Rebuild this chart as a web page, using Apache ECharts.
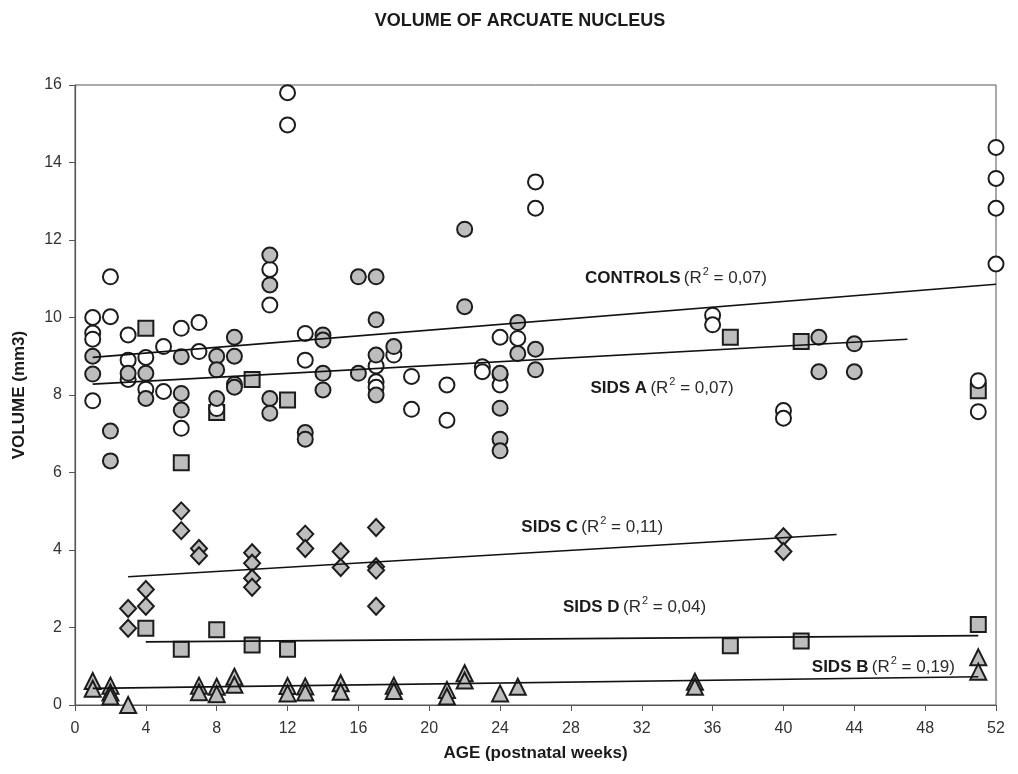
<!DOCTYPE html>
<html>
<head>
<meta charset="utf-8">
<title>Volume of arcuate nucleus</title>
<script src="https://cdn.jsdelivr.net/npm/echarts@6/dist/echarts.min.js"></script>
<style>
  html, body { margin: 0; padding: 0; background: #fff; }
  #chart { width: 1018px; height: 774px; }
</style>
</head>
<body>
<div id="chart"></div>
<script>
// [age in weeks, volume in mm3]
var controls = [
  [1, 10.0], [1, 9.6], [1, 9.44], [1, 7.85],
  [2, 11.05], [2, 10.02],
  [3, 9.55], [3, 8.9], [3, 8.4],
  [4, 8.97], [4, 8.15],
  [5, 9.25], [5, 8.09],
  [6, 9.72], [6, 7.14],
  [7, 9.87], [7, 9.12],
  [8, 7.65],
  [11, 11.24], [11, 10.32],
  [12, 15.8], [12, 14.97],
  [13, 9.59], [13, 8.9],
  [17, 8.75], [17, 8.34], [17, 8.2],
  [18, 9.03],
  [19, 8.48], [19, 7.63],
  [21, 8.26], [21, 7.35],
  [23, 8.73], [23, 8.6],
  [24, 9.49], [24, 8.52], [24, 8.26],
  [25, 9.46],
  [26, 13.5], [26, 12.82],
  [36, 10.06], [36, 9.81],
  [40, 7.6], [40, 7.4],
  [51, 8.37], [51, 7.57],
  [52, 14.39], [52, 13.59], [52, 12.82], [52, 11.38]
]
var sidsA = [
  [1, 9.0], [1, 8.54],
  [2, 7.07], [2, 6.3],
  [3, 8.56],
  [4, 8.56], [4, 7.91],
  [6, 8.99], [6, 8.04], [6, 7.61],
  [8, 9.0], [8, 8.65], [8, 7.91],
  [9, 9.49], [9, 9.0], [9, 8.28], [9, 8.2],
  [11, 11.61], [11, 10.84], [11, 7.91], [11, 7.53],
  [13, 7.03], [13, 6.86],
  [14, 9.55], [14, 9.42], [14, 8.56], [14, 8.13],
  [16, 11.05], [16, 8.56],
  [17, 11.05], [17, 9.94], [17, 9.03], [17, 8.0],
  [18, 9.25],
  [22, 12.28], [22, 10.28],
  [24, 8.56], [24, 7.66], [24, 6.86], [24, 6.56],
  [25, 9.87], [25, 9.07],
  [26, 9.18], [26, 8.65],
  [42, 9.49], [42, 8.6],
  [44, 9.32], [44, 8.6]
]
var squaresHigh = [
  [4, 9.72], [6, 6.25], [8, 7.55], [10, 8.4], [12, 7.87],
  [37, 9.49], [41, 9.38], [51, 8.11]
]
var sidsD = [
  [4, 1.98], [6, 1.44], [8, 1.94], [10, 1.55], [12, 1.44],
  [37, 1.53], [41, 1.65], [51, 2.08]
]
var sidsC = [
  [3, 2.49], [3, 1.98], [4, 2.98], [4, 2.55],
  [6, 5.01], [6, 4.5], [7, 4.04], [7, 3.85],
  [10, 3.93], [10, 3.66], [10, 3.27], [10, 3.04],
  [13, 4.41], [13, 4.04], [15, 3.96], [15, 3.55],
  [17, 4.58], [17, 3.57], [17, 3.48], [17, 2.55],
  [40, 4.34], [40, 3.96]
]
var sidsB = [
  [1, 0.62], [1, 0.42], [2, 0.5], [2, 0.32], [2, 0.22], [3, 0.0],
  [7, 0.5], [7, 0.33], [8, 0.47], [8, 0.28], [9, 0.73], [9, 0.52],
  [12, 0.49], [12, 0.3], [13, 0.48], [13, 0.32], [15, 0.56], [15, 0.34],
  [18, 0.5], [18, 0.36], [21, 0.39], [21, 0.22], [22, 0.82], [22, 0.63],
  [24, 0.3], [25, 0.47], [35, 0.6], [35, 0.47], [51, 1.23], [51, 0.86]
]

// trend lines, end points
var controlsFit = [[1, 8.97], [52, 10.86]]
var sidsAFit = [[1, 8.28], [47, 9.44]]
var sidsCFit = [[3, 3.31], [43, 4.4]]
var sidsDFit = [[4, 1.63], [51, 1.79]]
var sidsBFit = [[1, 0.43], [51, 0.73]]

// group name, r2, where the note starts
var noteNames = ['CONTROLS', 'SIDS A', 'SIDS C', 'SIDS D', 'SIDS B']
var noteR2 = ['0,07', '0,07', '0,11', '0,04', '0,19']
var noteAt = [[28.8, 11.02], [29.1, 8.18], [25.2, 4.59], [27.55, 2.53], [41.6, 0.98]]

var gray = '#bdbdbd'
var edge = '#1c1c1c'

function dots(data, symbol, size, fill) {
  return {
    type: 'scatter',
    data: data,
    symbol: symbol,
    symbolSize: size,
    itemStyle: { color: fill, borderColor: edge, borderWidth: 2, opacity: 1 },
    emphasis: { disabled: true },
    z: 2
  }
}
function fit(data) {
  return {
    type: 'line',
    data: data,
    symbol: 'none',
    lineStyle: { color: '#111', width: 1.6 },
    z: 4
  }
}

var notes = noteAt.map(function (p, i) {
  return { value: p, name: noteNames[i], r2: noteR2[i] }
})

var option = {
  animation: false,
  backgroundColor: '#fff',
  title: {
    text: 'VOLUME OF ARCUATE NUCLEUS',
    left: 515,
    top: 7,
    textAlign: 'center',
    textStyle: { fontFamily: 'Liberation Sans', fontWeight: 'bold', fontSize: 18, color: '#1a1a1a' }
  },
  grid: {
    left: 75, right: 22, top: 85, bottom: 69,
    show: true, borderColor: '#555', borderWidth: 1
  },
  xAxis: {
    type: 'value', min: 0, max: 52, interval: 4,
    name: 'AGE (postnatal weeks)',
    nameLocation: 'middle', nameGap: 40,
    nameTextStyle: { fontFamily: 'Liberation Sans', fontWeight: 'bold', fontSize: 17, color: '#1a1a1a' },
    axisLine: { lineStyle: { color: '#555', width: 1.2 } },
    axisTick: { length: 6, lineStyle: { color: '#555' } },
    axisLabel: { margin: 16, fontFamily: 'Liberation Sans', fontSize: 16, color: '#333' },
    splitLine: { show: false }
  },
  yAxis: {
    type: 'value', min: 0, max: 16, interval: 2,
    name: 'VOLUME (mm3)',
    nameLocation: 'middle', nameGap: 47, nameRotate: 90,
    nameTextStyle: { fontFamily: 'Liberation Sans', fontWeight: 'bold', fontSize: 17, color: '#1a1a1a' },
    axisLine: { lineStyle: { color: '#555', width: 1.2 } },
    axisTick: { show: true, length: 6, lineStyle: { color: '#555' } },
    axisLabel: { margin: 13, fontFamily: 'Liberation Sans', fontSize: 16, color: '#333' },
    splitLine: { show: false }
  },
  series: [
    fit(controlsFit), fit(sidsAFit), fit(sidsCFit), fit(sidsDFit), fit(sidsBFit),
    dots(sidsC, 'diamond', [16, 17], gray),
    dots(sidsD, 'rect', 15, gray),
    dots(squaresHigh, 'rect', 15, gray),
    dots(sidsB, 'triangle', 16, gray),
    dots(controls, 'circle', 15, '#fff'),
    dots(sidsA, 'circle', 15, gray),
    {
      type: 'scatter',
      data: notes,
      symbolSize: 0,
      itemStyle: { opacity: 1 },
      emphasis: { disabled: true },
      z: 5,
      label: {
        show: true,
        position: 'right',
        distance: 0,
        opacity: 1,
        formatter: function (p) {
          return '{b|' + p.data.name + '} {n|(R}{s|2}{n| = ' + p.data.r2 + ')}'
        },
        rich: {
          b: { fontFamily: 'Liberation Sans', fontWeight: 'bold', fontSize: 17, color: '#1a1a1a' },
          n: { fontFamily: 'Liberation Sans', fontSize: 17, color: '#2a2a2a' },
          s: { fontFamily: 'Liberation Sans', fontSize: 11, color: '#2a2a2a', padding: [0, 0, 12, 1] }
        }
      }
    }
  ]
}

var chart = echarts.init(document.getElementById('chart'))
chart.setOption(option)
</script>
</body>
</html>
